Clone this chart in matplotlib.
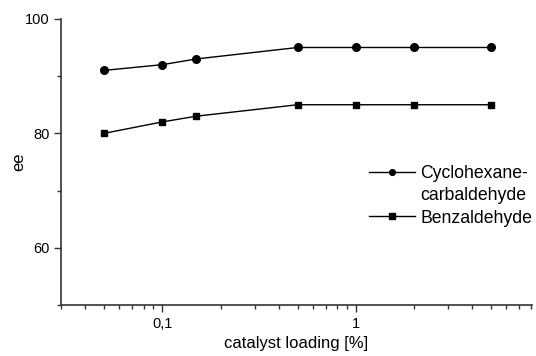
import numpy as np
from matplotlib import pyplot as plt
from matplotlib.lines import Line2D
from matplotlib.ticker import FuncFormatter, LogLocator, MultipleLocator

plt.rcParams["font.family"] = ["Liberation Sans", "DejaVu Sans"]

loading = [0.05, 0.1, 0.15, 0.5, 1, 2, 5]
ee_cyclo = [91, 92, 93, 95, 95, 95, 95]
ee_benz = [80, 82, 83, 85, 85, 85, 85]

fig = plt.figure(figsize=(5.36, 3.56), dpi=100)
ax = fig.add_axes([0.114, 0.143, 0.878, 0.804])

l1, = ax.plot(loading, ee_cyclo, color="black", lw=1, marker="o", ms=5.5)
l2, = ax.plot(loading, ee_benz, color="black", lw=1, marker="s", ms=5)

ax.set_xscale("log")
ax.set_xlim(0.03, 8.1)
ax.set_ylim(50, 100)

ax.xaxis.set_major_locator(LogLocator(base=10, numticks=10))
ax.xaxis.set_minor_locator(LogLocator(base=10, subs=np.arange(2, 10), numticks=10))
ax.xaxis.set_major_formatter(FuncFormatter(lambda v, p: f"{v:g}".replace(".", ",")))
ax.xaxis.set_minor_formatter(FuncFormatter(lambda v, p: ""))
ax.yaxis.set_minor_locator(MultipleLocator(10))
ax.set_yticks([60, 80, 100])

for s in ["top", "right"]:
    ax.spines[s].set_visible(False)
for s in ["left", "bottom"]:
    ax.spines[s].set_color("#333333")
    ax.spines[s].set_linewidth(1.2)

ax.tick_params(which="major", length=5, width=1, color="#333333", labelsize=10.5)
ax.tick_params(which="minor", length=3, width=1, color="#333333")

ax.set_xlabel("catalyst loading [%]", fontsize=12, labelpad=4)
ax.set_ylabel("ee", fontsize=12, labelpad=-1)

# second line of the first label as a blank entry so the handle sits on line one
blank = Line2D([], [], linestyle="none")
ax.legend([l1, blank, l2], ["Cyclohexane-", "carbaldehyde", "Benzaldehyde"],
          loc="center right", bbox_to_anchor=(1.035, 0.382), frameon=False,
          fontsize=12.7, handlelength=2.6, handletextpad=0.3, labelspacing=0.3,
          markerscale=0.75)

fig.savefig("out.png", dpi=100)
